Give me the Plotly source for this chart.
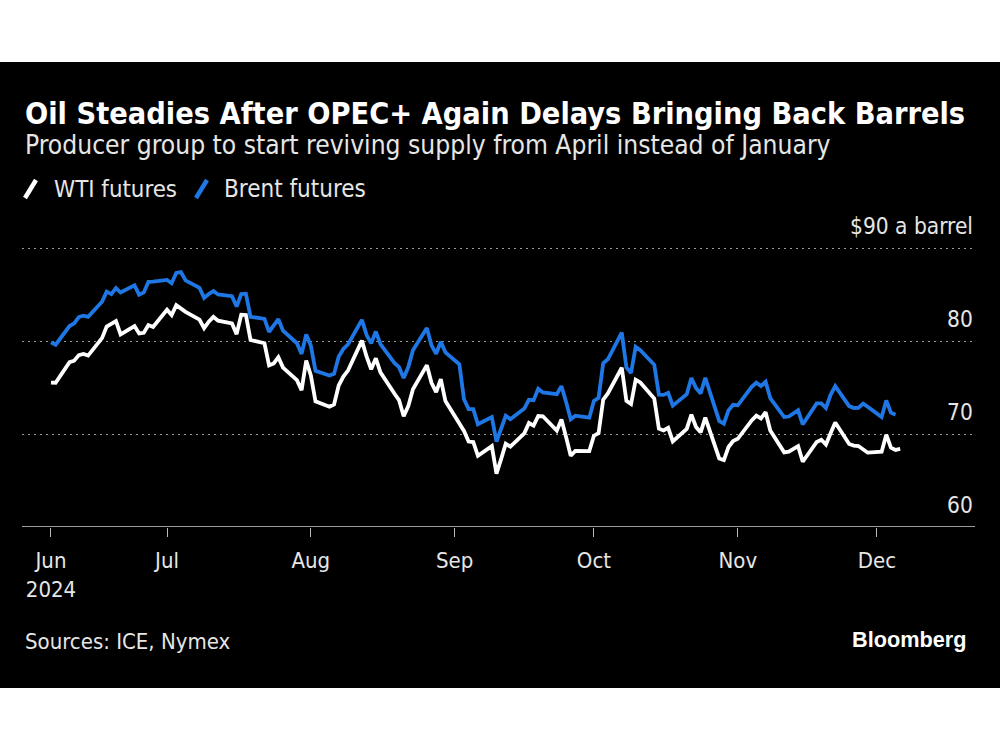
import plotly.graph_objects as go

# ---------------- data ----------------
brent_dates = [
    "2024-06-06", "2024-06-07", "2024-06-10", "2024-06-11", "2024-06-12", "2024-06-13", "2024-06-14",
    "2024-06-17", "2024-06-18", "2024-06-19", "2024-06-20", "2024-06-21", "2024-06-24", "2024-06-25",
    "2024-06-26", "2024-06-27", "2024-06-28",
    "2024-07-01", "2024-07-02", "2024-07-03", "2024-07-04", "2024-07-05", "2024-07-08", "2024-07-09",
    "2024-07-10", "2024-07-11", "2024-07-12", "2024-07-15", "2024-07-16", "2024-07-17", "2024-07-18",
    "2024-07-19", "2024-07-22", "2024-07-23", "2024-07-24", "2024-07-25", "2024-07-26", "2024-07-29",
    "2024-07-30", "2024-07-31",
    "2024-08-01", "2024-08-02", "2024-08-05", "2024-08-06", "2024-08-07", "2024-08-08", "2024-08-09",
    "2024-08-12", "2024-08-13", "2024-08-14", "2024-08-15", "2024-08-16", "2024-08-19", "2024-08-20",
    "2024-08-21", "2024-08-22", "2024-08-23", "2024-08-26", "2024-08-27", "2024-08-28", "2024-08-29",
    "2024-08-30",
    "2024-09-02", "2024-09-03", "2024-09-04", "2024-09-05", "2024-09-06", "2024-09-09", "2024-09-10",
    "2024-09-11", "2024-09-12", "2024-09-13", "2024-09-16", "2024-09-17", "2024-09-18", "2024-09-19",
    "2024-09-20", "2024-09-23", "2024-09-24", "2024-09-25", "2024-09-26", "2024-09-27", "2024-09-30",
    "2024-10-01", "2024-10-02", "2024-10-03", "2024-10-04", "2024-10-07", "2024-10-08", "2024-10-09",
    "2024-10-10", "2024-10-11", "2024-10-14", "2024-10-15", "2024-10-16", "2024-10-17", "2024-10-18",
    "2024-10-21", "2024-10-22", "2024-10-23", "2024-10-24", "2024-10-25", "2024-10-28", "2024-10-29",
    "2024-10-30", "2024-10-31",
    "2024-11-01", "2024-11-04", "2024-11-05", "2024-11-06", "2024-11-07", "2024-11-08", "2024-11-11",
    "2024-11-12", "2024-11-13", "2024-11-14", "2024-11-15", "2024-11-18", "2024-11-19", "2024-11-20",
    "2024-11-21", "2024-11-22", "2024-11-25", "2024-11-26", "2024-11-27", "2024-11-28", "2024-11-29",
    "2024-12-02", "2024-12-03", "2024-12-04", "2024-12-05",
]
brent_values = [
    79.87, 79.62, 81.63, 81.92, 82.60, 82.75, 82.62,
    84.25, 85.33, 85.07, 85.71, 85.24, 86.01, 85.01,
    85.25, 86.39, 86.41,
    86.60, 86.24, 87.34, 87.43, 86.54, 85.75, 84.66,
    85.08, 85.40, 85.03, 84.85, 83.73, 85.08, 85.11,
    82.63, 82.40, 81.01, 81.71, 82.37, 81.13, 79.78,
    78.63, 80.72,
    79.52, 76.81, 76.30, 76.48, 78.33, 79.16, 79.66,
    82.30, 80.69, 79.76, 81.04, 79.68, 77.66, 77.20,
    76.05, 77.22, 79.02, 81.43, 79.55, 78.65, 79.94,
    78.80,
    77.52, 73.75, 72.70, 72.69, 71.06, 71.84, 69.19,
    70.61, 71.97, 71.61, 72.75, 73.70, 73.65, 74.88,
    74.49, 74.29, 75.17, 73.46, 71.60, 71.98, 71.77,
    73.56, 73.90, 77.62, 78.05, 80.93, 77.18, 76.58,
    79.40, 79.04, 77.46, 74.25, 74.22, 74.45, 73.06,
    74.29, 76.04, 74.96, 74.38, 76.05, 71.42, 71.12,
    72.55, 73.16,
    73.10, 75.08, 75.53, 75.17, 75.63, 73.87, 71.83,
    71.89, 72.28, 72.56, 71.04, 73.30, 73.31, 72.81,
    74.23, 75.17, 73.01, 72.81, 72.83, 73.28, 72.94,
    71.83, 73.62, 72.31, 72.09,
]

wti_dates = [
    "2024-06-06", "2024-06-07", "2024-06-10", "2024-06-11", "2024-06-12", "2024-06-13", "2024-06-14",
    "2024-06-17", "2024-06-18", "2024-06-20", "2024-06-21", "2024-06-24", "2024-06-25", "2024-06-26",
    "2024-06-27", "2024-06-28",
    "2024-07-01", "2024-07-02", "2024-07-03", "2024-07-05", "2024-07-08", "2024-07-09", "2024-07-10",
    "2024-07-11", "2024-07-12", "2024-07-15", "2024-07-16", "2024-07-17", "2024-07-18", "2024-07-19",
    "2024-07-22", "2024-07-23", "2024-07-24", "2024-07-25", "2024-07-26", "2024-07-29", "2024-07-30",
    "2024-07-31",
    "2024-08-01", "2024-08-02", "2024-08-05", "2024-08-06", "2024-08-07", "2024-08-08", "2024-08-09",
    "2024-08-12", "2024-08-13", "2024-08-14", "2024-08-15", "2024-08-16", "2024-08-19", "2024-08-20",
    "2024-08-21", "2024-08-22", "2024-08-23", "2024-08-26", "2024-08-27", "2024-08-28", "2024-08-29",
    "2024-08-30",
    "2024-09-03", "2024-09-04", "2024-09-05", "2024-09-06", "2024-09-09", "2024-09-10", "2024-09-11",
    "2024-09-12", "2024-09-13", "2024-09-16", "2024-09-17", "2024-09-18", "2024-09-19", "2024-09-20",
    "2024-09-23", "2024-09-24", "2024-09-25", "2024-09-26", "2024-09-27", "2024-09-30",
    "2024-10-01", "2024-10-02", "2024-10-03", "2024-10-04", "2024-10-07", "2024-10-08", "2024-10-09",
    "2024-10-10", "2024-10-11", "2024-10-14", "2024-10-15", "2024-10-16", "2024-10-17", "2024-10-18",
    "2024-10-21", "2024-10-22", "2024-10-23", "2024-10-24", "2024-10-25", "2024-10-28", "2024-10-29",
    "2024-10-30", "2024-10-31",
    "2024-11-01", "2024-11-04", "2024-11-05", "2024-11-06", "2024-11-07", "2024-11-08", "2024-11-11",
    "2024-11-12", "2024-11-13", "2024-11-14", "2024-11-15", "2024-11-18", "2024-11-19", "2024-11-20",
    "2024-11-21", "2024-11-22", "2024-11-25", "2024-11-26", "2024-11-27", "2024-11-29",
    "2024-12-02", "2024-12-03", "2024-12-04", "2024-12-05", "2024-12-06",
]
wti_values = [
    75.55, 75.53, 77.74, 77.90, 78.50, 78.62, 78.45,
    80.33, 81.57, 82.17, 80.73, 81.63, 80.83, 80.90,
    81.74, 81.54,
    83.38, 82.81, 83.88, 83.16, 82.33, 81.41, 82.10,
    82.62, 82.21, 81.91, 80.76, 82.85, 82.82, 80.13,
    79.78, 77.40, 77.60, 78.28, 77.16, 75.81, 74.73,
    77.91,
    76.31, 73.52, 72.94, 73.20, 75.23, 76.19, 76.84,
    80.06, 78.35, 76.98, 78.16, 76.65, 74.37, 73.66,
    71.93, 73.01, 74.83, 77.42, 75.53, 74.52, 75.91,
    73.55,
    70.34, 69.20, 69.15, 67.67, 68.71, 65.75, 67.31,
    68.97, 68.65, 70.09, 71.19, 70.91, 71.95, 71.92,
    70.37, 71.56, 69.69, 67.67, 68.18, 68.17,
    69.83, 70.10, 73.71, 74.38, 77.14, 73.57, 73.24,
    75.85, 75.56, 73.83, 70.58, 70.39, 70.67, 69.22,
    70.56, 72.09, 70.77, 70.19, 71.78, 67.38, 67.21,
    68.61, 69.26,
    69.49, 71.47, 71.99, 71.69, 72.36, 70.38, 68.04,
    68.12, 68.43, 68.70, 67.02, 69.16, 69.39, 68.87,
    70.10, 71.24, 68.94, 68.77, 68.72, 68.00,
    68.10, 69.94, 68.54, 68.30, 68.40,
]

month_tick_dates = ["2024-06-06", "2024-07-01", "2024-08-01", "2024-09-01",
                    "2024-10-01", "2024-11-01", "2024-12-01"]
month_tick_labels = ["Jun<br>2024", "Jul", "Aug", "Sep", "Oct", "Nov", "Dec"]
y_tick_values = [60, 70, 80, 90]
y_tick_labels = ["60", "70", "80", "$90 a barrel"]

series_names = ["WTI futures", "Brent futures"]
title_text = "Oil Steadies After OPEC+ Again Delays Bringing Back Barrels"
subtitle_text = "Producer group to start reviving supply from April instead of January"
source_text = "Sources: ICE, Nymex"

# ---------------- style ----------------
WHITE = "#ffffff"
BLUE = "#1f77e6"
TXT = "#e6e6e6"
FONT = "DejaVu Sans Condensed, DejaVu Sans, sans-serif"
BOLD_FONT = "Liberation Sans, Arial, sans-serif"

W, H = 1000, 750
PL, PR = 22, 975          # plot area left/right pixel
PT, PB = 239, 527         # plot area top/bottom pixel


def px(x):
    return (x - PL) / (PR - PL)


def py(y):
    return (PB - y) / (PB - PT)


fig = go.Figure()
fig.add_trace(go.Scatter(x=brent_dates, y=brent_values, mode="lines",
                         name=series_names[1],
                         line=dict(color=BLUE, width=3.8), showlegend=False))
fig.add_trace(go.Scatter(x=wti_dates, y=wti_values, mode="lines",
                         name=series_names[0],
                         line=dict(color=WHITE, width=3.8), showlegend=False))

shapes = [
    # baseline
    dict(type="line", xref="paper", yref="y", x0=0, x1=1, y0=60, y1=60,
         line=dict(color="#d0d0d0", width=1.5)),
    # white bands above and below the black card
    dict(type="rect", xref="paper", yref="paper", x0=px(-10), x1=px(1010),
         y0=py(62), y1=py(-10), fillcolor="white", line=dict(width=0), layer="above"),
    dict(type="rect", xref="paper", yref="paper", x0=px(-10), x1=px(1010),
         y0=py(760), y1=py(688), fillcolor="white", line=dict(width=0), layer="above"),
    # legend slashes
    dict(type="line", xref="paper", yref="paper", x0=px(25), x1=px(36),
         y0=py(198), y1=py(180), line=dict(color=WHITE, width=4.5)),
    dict(type="line", xref="paper", yref="paper", x0=px(196), x1=px(207),
         y0=py(198), y1=py(180), line=dict(color=BLUE, width=4.5)),
]

annotations = [
    dict(text="<b>" + title_text + "</b>", x=px(23), y=py(113), xref="paper", yref="paper",
         xanchor="left", yanchor="middle", showarrow=False,
         font=dict(family=FONT, size=30.4, color=WHITE)),
    dict(text=subtitle_text, x=px(23), y=py(145), xref="paper", yref="paper",
         xanchor="left", yanchor="middle", showarrow=False,
         font=dict(family=FONT, size=26.2, color=TXT)),
    dict(text=series_names[0], x=px(52), y=py(189), xref="paper", yref="paper",
         xanchor="left", yanchor="middle", showarrow=False,
         font=dict(family=FONT, size=23.8, color=TXT)),
    dict(text=series_names[1], x=px(222), y=py(189), xref="paper", yref="paper",
         xanchor="left", yanchor="middle", showarrow=False,
         font=dict(family=FONT, size=24, color=TXT)),
    dict(text=source_text, x=px(23), y=py(641), xref="paper", yref="paper",
         xanchor="left", yanchor="middle", showarrow=False,
         font=dict(family=FONT, size=22, color=TXT)),
    dict(text="<b>Bloomberg</b>", x=px(968), y=py(639), xref="paper", yref="paper",
         xanchor="right", yanchor="middle", showarrow=False,
         font=dict(family=BOLD_FONT, size=21.7, color=WHITE)),
]
# y-axis value labels, right-aligned, sitting above their gridlines
for v, t in zip(y_tick_values, y_tick_labels):
    annotations.append(dict(text=t, x=1, y=v, xref="paper", yref="y",
                            xanchor="right", yanchor="middle", yshift=22,
                            showarrow=False,
                            font=dict(family=FONT, size=22.5, color=TXT)))

fig.update_layout(
    width=W, height=H,
    margin=dict(l=PL, r=W - PR, t=PT, b=H - PB, pad=0),
    paper_bgcolor="black", plot_bgcolor="black",
    showlegend=False,
    shapes=shapes, annotations=annotations,
    xaxis=dict(
        type="date",
        range=["2024-05-30 18:06", "2024-12-22 02:53"],
        tickmode="array", tickvals=month_tick_dates, ticktext=month_tick_labels,
        ticks="outside", ticklen=9, tickwidth=1, tickcolor="#bbbbbb",
        showgrid=False, zeroline=False, showline=False,
        tickfont=dict(family=FONT, size=22, color=TXT),
        ticklabelstandoff=5,
    ),
    yaxis=dict(
        range=[60, 91], side="right",
        tickmode="array", tickvals=y_tick_values,
        ticks="", showticklabels=False,
        showgrid=True, gridcolor="#9a9a9a", gridwidth=1, griddash="2px,4px",
        zeroline=False, showline=False,
    ),
)

fig.write_html("out.html", config={"displayModeBar": False},
               post_script="document.body.style.margin='0';document.body.style.padding='0';")
